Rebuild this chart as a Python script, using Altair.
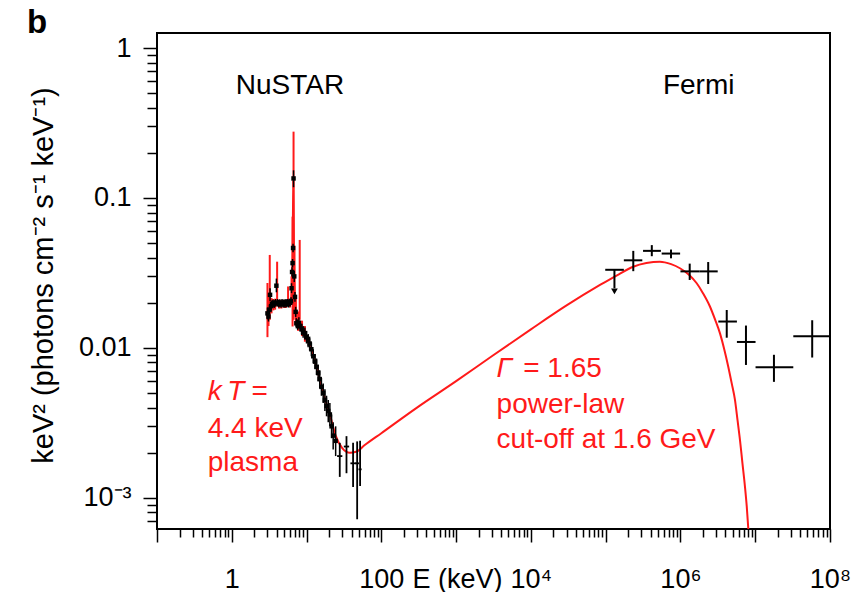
import altair as alt
import pandas as pd

FONT = "Liberation Sans"
RED = "#ff1a1a"

# ---------------- data ----------------
# red model curve (thermal plasma + cut-off power law)
model_E = [3.0, 3.2, 3.5, 4.0, 5.0, 6.0, 6.3, 6.5, 6.65, 6.8, 7.0, 7.3, 8.0, 9.5, 11.0,
           13.6, 16.7, 20.5, 24.5, 30, 38, 46, 60, 100, 300, 1000, 3000, 1e4, 3e4, 8.4e4,
           1.5e5, 2.34e5, 3.5e5, 5.3e5, 7.5e5, 9.85e5, 1.3e6, 1.65e6, 2.0e6, 2.48e6, 2.9e6,
           3.38e6, 3.85e6, 4.36e6, 4.85e6, 5.36e6, 5.8e6, 6.25e6, 6.75e6, 7.29e6, 7.7e6,
           8.07e6, 8.4e6]
model_F = [0.0172, 0.0183, 0.0192, 0.0197, 0.0198, 0.0199, 0.0225, 0.040, 0.130, 0.040,
           0.0205, 0.0150, 0.0138, 0.0124, 0.0106, 0.0075, 0.0050, 0.0036, 0.0026, 0.00215,
           0.00200, 0.00203, 0.00225, 0.00270, 0.0040, 0.0060, 0.0088, 0.0133, 0.0192, 0.0263,
           0.0310, 0.0348, 0.0368, 0.0376, 0.0362, 0.0340, 0.0308, 0.0270, 0.0232, 0.0189,
           0.0155, 0.0125, 0.0098, 0.0075, 0.0058, 0.0045, 0.0033, 0.00244, 0.0017, 0.00119,
           0.00088, 0.00063, 0.00046]

# NuSTAR module A (black)
nuA_E = [3.0, 3.1, 3.2, 3.25, 3.35, 3.45, 3.55, 3.7, 3.85, 3.95,
         4.1, 4.25, 4.4, 4.55, 4.7, 4.85, 5.0, 5.15, 5.3, 5.45,
         5.6, 5.75, 5.9, 6.05, 6.2, 6.3, 6.4, 6.5, 6.6, 6.7,
         6.85, 7.0, 7.15, 7.3, 7.6, 7.9, 8.2, 8.6, 9.0, 9.5,
         10.0, 10.5, 11.0, 11.6, 12.3, 13.0, 13.6, 14.3, 15.0, 15.8,
         16.7, 17.6, 18.5, 19.5, 20.5, 21.6, 22.7, 24.5]
nuA_F = [0.0170, 0.0162, 0.0180, 0.0226, 0.0190, 0.0196, 0.0198, 0.0196, 0.0200, 0.0260,
         0.0200, 0.0197, 0.0199, 0.0196, 0.0200, 0.0197, 0.0199, 0.0196, 0.0200, 0.0198,
         0.0200, 0.0197, 0.0201, 0.0200, 0.0205, 0.0250, 0.0321, 0.0368, 0.0464, 0.135,
         0.0300, 0.0219, 0.0174, 0.0146, 0.0143, 0.0147, 0.0140, 0.0133, 0.0128, 0.0125,
         0.0118, 0.0112, 0.0107, 0.0098, 0.0088, 0.0081, 0.0075, 0.0068, 0.0062, 0.0055,
         0.0050, 0.0045, 0.0041, 0.0038, 0.0036, 0.0030, 0.0026, 0.0024]
nuA_lo = [0.0155, 0.0150, 0.0168, 0.0205, 0.0178, 0.0185, 0.0187, 0.0185, 0.0189, 0.0235,
          0.0189, 0.0186, 0.0188, 0.0185, 0.0189, 0.0186, 0.0188, 0.0185, 0.0189, 0.0187,
          0.0189, 0.0186, 0.0190, 0.0189, 0.0193, 0.0232, 0.0300, 0.0345, 0.0435, 0.118,
          0.0275, 0.0203, 0.0161, 0.0135, 0.0132, 0.0135, 0.0129, 0.0122, 0.0117, 0.0114,
          0.0107, 0.0101, 0.0096, 0.0088, 0.0079, 0.0072, 0.0066, 0.0060, 0.0054, 0.0048,
          0.0043, 0.0038, 0.0035, 0.0032, 0.0030, 0.0025, 0.0021, 0.0019]
nuA_hi = [0.0186, 0.0175, 0.0193, 0.0250, 0.0203, 0.0208, 0.0210, 0.0208, 0.0212, 0.0290,
          0.0212, 0.0209, 0.0211, 0.0208, 0.0212, 0.0209, 0.0211, 0.0208, 0.0212, 0.0210,
          0.0212, 0.0209, 0.0213, 0.0212, 0.0218, 0.0270, 0.0345, 0.0392, 0.0495, 0.153,
          0.0327, 0.0236, 0.0188, 0.0158, 0.0155, 0.0160, 0.0152, 0.0145, 0.0140, 0.0137,
          0.0130, 0.0124, 0.0119, 0.0109, 0.0098, 0.0091, 0.0085, 0.0077, 0.0071, 0.0063,
          0.0058, 0.0053, 0.0048, 0.0045, 0.0043, 0.0036, 0.0032, 0.0030]

# NuSTAR high-energy bins (black crosses)
nuX_E = [27.8, 34.2, 41.9, 47.5, 52.0]
nuX_Elo = [25.6, 31.5, 38.6, 44.5, 49.5]
nuX_Ehi = [30.1, 37.1, 45.4, 50.5, 54.5]
nuX_F = [0.0019, 0.0022, 0.0017, 0.0017, 0.00155]
nuX_Flo = [0.00138, 0.00146, 0.00118, 0.00072, 0.00120]
nuX_Fhi = [0.00233, 0.00258, 0.00233, 0.00238, 0.00240]

# NuSTAR module B (red error bars)
nuB_E = [3.0, 3.1, 3.22, 3.4, 3.6, 3.8, 4.04, 4.3, 4.6, 5.0,
         5.3, 5.66, 6.0, 6.3, 6.5, 6.7, 6.9, 7.2, 7.7, 8.1, 8.7, 9.5]
nuB_F = [0.0165, 0.0175, 0.0200, 0.0192, 0.0195, 0.0196, 0.0240, 0.0196, 0.0195, 0.0197,
         0.0196, 0.0225, 0.0198, 0.0240, 0.0330, 0.120, 0.0300, 0.0180, 0.0150, 0.0200,
         0.0135, 0.0124]
nuB_lo = [0.0118, 0.0140, 0.0154, 0.0170, 0.0178, 0.0180, 0.0189, 0.0183, 0.0183, 0.0185,
          0.0185, 0.0204, 0.0186, 0.0200, 0.0139, 0.0154, 0.0180, 0.0150, 0.0130, 0.0154,
          0.0120, 0.0110]
nuB_hi = [0.0271, 0.0230, 0.0417, 0.0215, 0.0212, 0.0213, 0.0376, 0.0210, 0.0208, 0.0209,
          0.0208, 0.0257, 0.0212, 0.0300, 0.0751, 0.277, 0.0480, 0.0220, 0.0175, 0.0525,
          0.0152, 0.0140]

# Fermi data points (crosses)
fermi_E = [2.34e5, 4.14e5, 7.48e5, 1.33e6, 2.35e6, 4.16e6, 7.52e6, 1.78e7, 5.78e7]
fermi_Elo = [1.75e5, 3.16e5, 5.61e5, 1.0e6, 1.81e6, 3.21e6, 5.69e6, 1.01e7, 3.23e7]
fermi_Ehi = [3.09e5, 5.48e5, 9.9e5, 1.81e6, 3.15e6, 5.69e6, 1.01e7, 3.23e7, 1.0e8]
fermi_F = [0.0384, 0.0444, 0.0426, 0.0324, 0.0324, 0.0150, 0.01096, 0.00743, 0.01197]
fermi_Flo = [0.0325, 0.0409, 0.0396, 0.0284, 0.0267, 0.0117, 0.0077, 0.00594, 0.00863]
fermi_Fhi = [0.0444, 0.0485, 0.0453, 0.0365, 0.0374, 0.0179, 0.0141, 0.0090, 0.0153]

# Fermi upper limit
ul_E = [1.31e5]
ul_Elo = [9.87e4]
ul_Ehi = [1.75e5]
ul_F = [0.0332]
ul_tip = [0.0250]
ul_arrow = [0.0238]

# text annotations
black_text = ["NuSTAR", "Fermi"]
black_text_E = [1.13, 5.83e5]
black_text_F = [0.493, 0.493]

red_text = ["=", "4.4 keV", "plasma", "= 1.65", "power-law", "cut-off at 1.6 GeV"]
red_text_E = [1.835, 0.477, 0.477, 7890, 3476, 3476]
red_text_F = [0.0045, 0.00256, 0.0015, 0.00644, 0.00367, 0.00214]

red_italic = ["k\u2009T", "\u0393"]
red_italic_E = [0.477, 3476]
red_italic_F = [0.0045, 0.00644]

# axis tick positions
x_major = [10.0 ** k for k in range(-1, 9)]
x_minor = [m * 10.0 ** k for k in range(-1, 8) for m in range(2, 10)]
y_major = [1e-3, 1e-2, 1e-1, 1.0]
y_minor = [m * 10.0 ** k for k in range(-4, 0) for m in range(2, 10)
           if 6.2e-4 < m * 10.0 ** k < 1.26]

# ---------------- chart ----------------
XS = alt.Scale(type="log", domain=[0.1, 1e8], nice=False)
YS = alt.Scale(type="log", domain=[6.2e-4, 1.26], nice=False)

x_ax_major = alt.Axis(
    orient="bottom", values=x_major, tickSize=13, tickWidth=1.5, tickColor="black",
    domain=False, grid=False,
    labelExpr="datum.value == 1 ? '1' : datum.value == 100 ? '100' : datum.value == 10000 ? '10\u2074' : datum.value == 1000000 ? '10\u2076' : datum.value == 100000000 ? '10\u2078' : ''",
    labelFont=FONT, labelFontSize=27, labelColor="black", labelPadding=45,
    labelBaseline="alphabetic", labelOverlap=False, labelFlush=False,
    title="E (keV)", titleFont=FONT, titleFontSize=27, titleFontWeight="normal",
    titleColor="black", titleX=255, titleY=58, titleAlign="left", titleBaseline="alphabetic")
x_ax_minor = alt.Axis(
    orient="bottom", values=x_minor, tickSize=8, tickWidth=1.5, tickColor="black",
    domain=False, grid=False, labels=False, title=None)
y_ax_major = alt.Axis(
    orient="left", values=y_major, tickSize=14, tickWidth=1.5, tickColor="black",
    domain=False, grid=False,
    labelExpr="datum.value < 0.002 ? '10\u207b\u00b3' : datum.value < 0.02 ? '0.01' : datum.value < 0.2 ? '0.1' : '1'",
    labelFont=FONT, labelFontSize=27, labelColor="black", labelPadding=12,
    labelBaseline="middle", labelOverlap=False, labelFlush=False,
    title="keV\u00b2 (photons cm\u207b\u00b2 s\u207b\u00b9 keV\u207b\u00b9)",
    titleFont=FONT, titleFontSize=29, titleFontWeight="normal", titleColor="black",
    titleX=-114, titleY=242, titleAlign="center", titleBaseline="middle")
y_ax_minor = alt.Axis(
    orient="left", values=y_minor, tickSize=10, tickWidth=1.5, tickColor="black",
    domain=False, grid=False, labels=False, title=None)


def X(field, axis=None):
    return alt.X(field, type="quantitative", scale=XS, axis=axis)


def Y(field, axis=None):
    return alt.Y(field, type="quantitative", scale=YS, axis=axis)


df_model = pd.DataFrame({"E": model_E, "F": model_F})
df_A = pd.DataFrame({"E": nuA_E, "F": nuA_F, "lo": nuA_lo, "hi": nuA_hi})
df_X = pd.DataFrame({"E": nuX_E, "Elo": nuX_Elo, "Ehi": nuX_Ehi,
                     "F": nuX_F, "Flo": nuX_Flo, "Fhi": nuX_Fhi})
df_B = pd.DataFrame({"E": nuB_E, "F": nuB_F, "lo": nuB_lo, "hi": nuB_hi})
df_fermi = pd.DataFrame({"E": fermi_E, "Elo": fermi_Elo, "Ehi": fermi_Ehi,
                         "F": fermi_F, "Flo": fermi_Flo, "Fhi": fermi_Fhi})
df_ul = pd.DataFrame({"E": ul_E, "Elo": ul_Elo, "Ehi": ul_Ehi, "F": ul_F,
                      "tip": ul_tip, "arrow": ul_arrow})
df_bt = pd.DataFrame({"t": black_text, "E": black_text_E, "F": black_text_F})
df_rt = pd.DataFrame({"t": red_text, "E": red_text_E, "F": red_text_F})
df_ri = pd.DataFrame({"t": red_italic, "E": red_italic_E, "F": red_italic_F})

# red NuSTAR error bars (carries the minor-tick axes)
b_err = alt.Chart(df_B).mark_rule(color=RED, strokeWidth=2).encode(
    x=X("E", x_ax_minor), y=Y("lo", y_ax_minor), y2="hi")

model = alt.Chart(df_model).mark_line(color=RED, strokeWidth=2, clip=True,
                                      interpolate="monotone").encode(
    x=X("E", x_ax_major), y=Y("F", y_ax_major))

a_err = alt.Chart(df_A).mark_rule(color="black", strokeWidth=1.5).encode(
    x=X("E"), y=Y("lo"), y2="hi")
a_pts = alt.Chart(df_A).mark_square(color="black", size=20, opacity=1).encode(
    x=X("E"), y=Y("F"))

x_v = alt.Chart(df_X).mark_rule(color="black", strokeWidth=1.8, clip=True).encode(
    x=X("E"), y=Y("Flo"), y2="Fhi")
x_h = alt.Chart(df_X).mark_rule(color="black", strokeWidth=1.8).encode(
    x=X("Elo"), x2="Ehi", y=Y("F"))

f_v = alt.Chart(df_fermi).mark_rule(color="black", strokeWidth=2).encode(
    x=X("E"), y=Y("Flo"), y2="Fhi")
f_h = alt.Chart(df_fermi).mark_rule(color="black", strokeWidth=2).encode(
    x=X("Elo"), x2="Ehi", y=Y("F"))

u_h = alt.Chart(df_ul).mark_rule(color="black", strokeWidth=2).encode(
    x=X("Elo"), x2="Ehi", y=Y("F"))
u_v = alt.Chart(df_ul).mark_rule(color="black", strokeWidth=2).encode(
    x=X("E"), y=Y("F"), y2="tip")
u_a = alt.Chart(df_ul).mark_point(shape="triangle-down", filled=True, color="black",
                                  size=45, opacity=1).encode(x=X("E"), y=Y("arrow"))

t_black = alt.Chart(df_bt).mark_text(font=FONT, fontSize=28, color="black", align="left",
                                     baseline="alphabetic").encode(
    x=X("E"), y=Y("F"), text="t:N")
t_red = alt.Chart(df_rt).mark_text(font=FONT, fontSize=28, color=RED, align="left",
                                   baseline="alphabetic").encode(
    x=X("E"), y=Y("F"), text="t:N")
t_red_i = alt.Chart(df_ri).mark_text(font=FONT, fontSize=28, color=RED, align="left",
                                     baseline="alphabetic", fontStyle="italic").encode(
    x=X("E"), y=Y("F"), text="t:N")

chart = alt.layer(
    b_err, model, a_err, a_pts, x_v, x_h, f_v, f_h, u_h, u_v, u_a,
    t_black, t_red, t_red_i
).resolve_axis(x="independent", y="independent").properties(
    width=673, height=496,
    padding={"left": 157, "top": 33, "right": 38, "bottom": 63},
    autosize=alt.AutoSizeParams(type="none"),
    title=alt.TitleParams("b", anchor="start", frame="group", font=FONT, fontSize=33,
                          fontWeight="bold", color="black", dx=-130, dy=33, offset=0,
                          baseline="alphabetic"),
).configure_view(stroke="black", strokeWidth=2)

chart.save("out.html", embed_options={"renderer": "svg", "actions": False})
